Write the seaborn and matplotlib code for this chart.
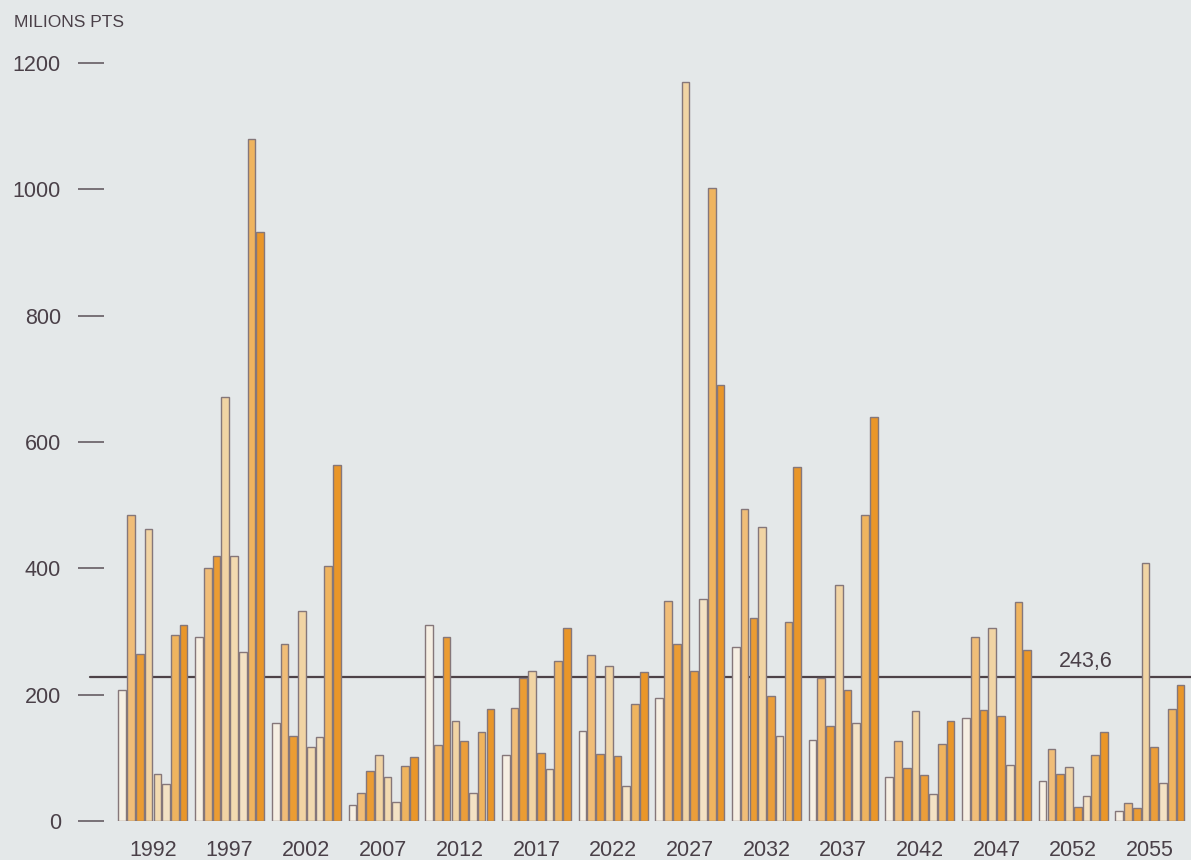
import pandas as pd
import matplotlib
matplotlib.use('Agg')
import matplotlib.pyplot as plt
import seaborn as sns

## Data
years = ['1992', '1997', '2002', '2007', '2012', '2017', '2022',
         '2027', '2032', '2037', '2042', '2047', '2052', '2055']

s1 = [207, 292, 155, 26, 310, 104, 143, 195, 275, 128, 70, 163, 63, 16]
s2 = [485, 401, 280, 45, 120, 179, 263, 348, 494, 227, 127, 292, 114, 29]
s3 = [265, 420, 135, 80, 291, 227, 106, 280, 322, 150, 84, 176, 75, 20]
s4 = [462, 672, 332, 105, 159, 238, 245, 1170, 465, 373, 174, 306, 85, 409]
s5 = [75, 420, 118, 69, 127, 107, 103, 238, 198, 207, 73, 166, 23, 118]
s6 = [58, 268, 133, 30, 45, 83, 55, 352, 135, 156, 43, 89, 40, 60]
s7 = [294, 1080, 404, 87, 141, 253, 185, 1002, 315, 485, 122, 346, 105, 177]
s8 = [310, 932, 563, 102, 177, 305, 236, 690, 561, 639, 159, 270, 141, 216]

series = [s1, s2, s3, s4, s5, s6, s7, s8]
series_names = ['s1', 's2', 's3', 's4', 's5', 's6', 's7', 's8']

mean_level = 228
mean_label = '243,6'

## Long table for seaborn
rows = []
for name, vals in zip(series_names, series):
    for yr, v in zip(years, vals):
        rows.append({'year': yr, 'series': name, 'value': v})
df = pd.DataFrame(rows)

## Style
BG = '#e4e8e9'
TXT = '#4a4048'
EDGE = '#85777a'
palette = ['#f6efe3', '#f0bd78', '#eb9c33', '#f1d4a4',
           '#eb9e3a', '#f3e2c4', '#efb45f', '#e99629']
early_s5_color = '#f2dab0'
early_groups = 4

sns.set_style('white')
plt.rcParams['font.family'] = ['Liberation Sans', 'DejaVu Sans']

fig = plt.figure(figsize=(11.91, 8.60), dpi=100, facecolor=BG)
ax = fig.add_axes([0.0873, 0.0453, 0.9127, 0.8814])
ax.set_facecolor(BG)

sns.barplot(data=df, x='year', y='value', hue='series', palette=palette,
            width=0.913, gap=0.12, saturation=1, edgecolor=EDGE,
            linewidth=1.0, legend=False, ax=ax, zorder=2)

## 5th series is cream in the first groups
for p in ax.containers[4].patches[:early_groups]:
    p.set_facecolor(early_s5_color)

## Mean line with label
ax.axhline(mean_level, xmin=-0.013, xmax=1, color='#4d4247', lw=1.6,
           clip_on=False, zorder=1)
ax.text(0.903, mean_level + 8, mean_label, transform=ax.get_yaxis_transform(),
        ha='center', va='bottom', fontsize=15.5, color=TXT)

ax.set_xlim(-0.639, 13.535)
ax.set_ylim(0, 1200)
ax.set_yticks([0, 200, 400, 600, 800, 1000, 1200])
ax.set_xlabel('')
ax.set_ylabel('')

for s in ax.spines.values():
    s.set_visible(False)

ax.tick_params(axis='y', left=True, length=19, width=1.1, color='#5a5058',
               pad=12, labelsize=15.5, labelcolor=TXT)
ax.tick_params(axis='x', bottom=False, length=0, pad=14, labelsize=15.5,
               labelcolor=TXT)

fig.text(0.012, 0.974, 'MILIONS PTS', fontsize=12.5, color=TXT, va='center')

fig.savefig('out.png', dpi=100, facecolor=BG)
